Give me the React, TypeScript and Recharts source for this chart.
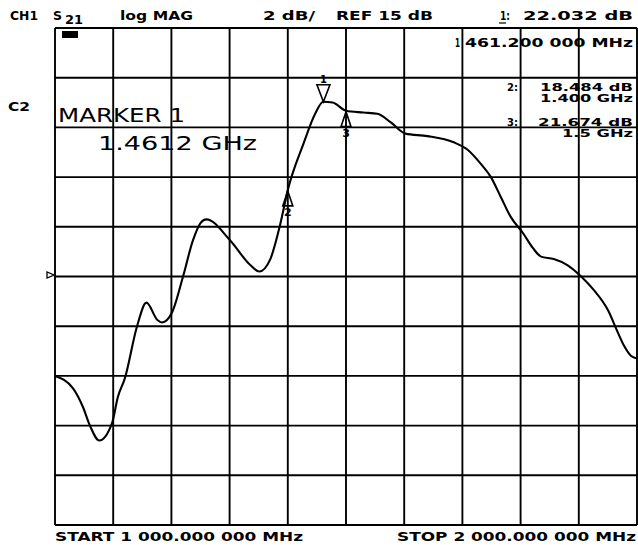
import React from "react";
import {
  ComposedChart,
  Line,
  Scatter,
  XAxis,
  YAxis,
  CartesianGrid,
} from "recharts";

// S21 trace (MHz / dB)
const freqMHz = [
  1000, 1031, 1048, 1060, 1076, 1098, 1108, 1120, 1141, 1157, 1176, 1184, 1201,
  1220, 1237, 1250, 1260, 1301, 1336, 1351, 1370, 1387, 1400, 1427, 1447, 1461,
  1477, 1500, 1530, 1554, 1577, 1602, 1640, 1685, 1709, 1731, 1749, 1766, 1783,
  1804, 1821, 1835, 1857, 1881, 1904, 1926, 1950, 1967, 1978, 1990, 2000,
];
const s21dB = [
  11.0, 10.5, 9.75, 9.0, 8.4, 9.1, 10.15, 10.9, 13.0, 13.95, 13.25, 13.15, 13.55,
  15.0, 16.45, 17.15, 17.3, 16.45, 15.45, 15.2, 15.7, 17.1, 18.48, 20.35, 21.55,
  22.03, 22.0, 21.67, 21.6, 21.55, 21.2, 20.75, 20.65, 20.4, 20.1, 19.55, 19.0,
  18.2, 17.4, 16.75, 16.15, 15.8, 15.7, 15.45, 15.0, 14.45, 13.65, 12.75, 12.2,
  11.8, 11.7,
];

// markers
const markerIds = [1, 2, 3];
const markerFreq = [1461.2, 1400, 1500];
const markerDb = [22.032, 18.484, 21.674];

// axis ticks (10 divisions each)
const freqTicks = [1000, 1100, 1200, 1300, 1400, 1500, 1600, 1700, 1800, 1900, 2000];
const dbTicks = [5, 7, 9, 11, 13, 15, 17, 19, 21, 23, 25];

const trace = freqMHz.map((f, i) => ({ f, db: s21dB[i] }));
const markers = markerIds.map((id, i) => ({ id, f: markerFreq[i], db: markerDb[i] }));

const bold = { fontFamily: "DejaVu Sans", fontWeight: 700 as const, fill: "#000" };
const thin = { fontFamily: "DejaVu Sans", fontWeight: 400 as const, fill: "#000" };

const MarkerShape = (props: any) => {
  const { cx, cy, payload } = props;
  if (payload.id === 1) {
    return (
      <g>
        <polygon
          points={`${cx - 6.5},${cy - 17} ${cx + 6.5},${cy - 17} ${cx},${cy}`}
          fill="#fff"
          stroke="#000"
          strokeWidth={1.6}
        />
        <text x={cx} y={cy - 19} textAnchor="middle" fontSize={10} {...bold}>
          1
        </text>
      </g>
    );
  }
  return (
    <g>
      <polygon
        points={`${cx},${cy + 1} ${cx - 5},${cy + 16} ${cx + 5},${cy + 16}`}
        fill="none"
        stroke="#000"
        strokeWidth={1.6}
      />
      <text x={cx} y={cy + 26} textAnchor="middle" fontSize={11} {...bold}>
        {payload.id}
      </text>
    </g>
  );
};

const T = (p: { x: number; y: number; w: number; size: number; s: any; children: string }) => (
  <text
    x={p.x}
    y={p.y}
    fontSize={p.size}
    textLength={p.w}
    lengthAdjust="spacingAndGlyphs"
    {...p.s}
  >
    {p.children}
  </text>
);

export default function App() {
  return (
    <div
      style={{
        position: "absolute",
        left: 0,
        top: 0,
        width: 638,
        height: 545,
        background: "#fff",
      }}
    >
      <ComposedChart
        width={638}
        height={545}
        margin={{ top: 28, right: 1, bottom: 20, left: 55 }}
      >
        <CartesianGrid stroke="#000" strokeWidth={1.9} />
        <XAxis
          dataKey="f"
          type="number"
          domain={[1000, 2000]}
          ticks={freqTicks}
          hide
        />
        <YAxis type="number" domain={[5, 25]} ticks={dbTicks} hide />
        <Line
          data={trace}
          dataKey="db"
          type="monotone"
          stroke="#000"
          strokeWidth={2.1}
          dot={false}
          isAnimationActive={false}
        />
        <Scatter
          data={markers}
          dataKey="db"
          shape={MarkerShape}
          isAnimationActive={false}
        />
      </ComposedChart>
      <svg
        width={638}
        height={545}
        style={{ position: "absolute", left: 0, top: 0, pointerEvents: "none" }}
      >
        {/* header */}
        <T x={10} y={20} w={28} size={12} s={bold}>CH1</T>
        <T x={53} y={20} w={9} size={12} s={bold}>S</T>
        <T x={65} y={24} w={18} size={12} s={bold}>21</T>
        <T x={120} y={20} w={73} size={12} s={bold}>log MAG</T>
        <T x={263} y={20} w={52} size={12} s={bold}>2 dB/</T>
        <T x={336} y={20} w={97} size={12} s={bold}>REF 15 dB</T>
        <T x={500} y={20} w={10} size={12} s={bold}>1:</T>
        <line x1={499} y1={23} x2={506} y2={23} stroke="#000" strokeWidth={1.2} />
        <T x={523} y={20} w={110} size={12} s={bold}>22.032 dB</T>

        {/* active marker frequency */}
        <T x={455} y={47} w={5} size={12} s={bold}>1</T>
        <T x={465} y={47} w={168} size={12} s={bold}>461.200 000 MHz</T>

        {/* other markers */}
        <T x={507} y={91} w={11} size={10} s={bold}>2:</T>
        <T x={540} y={91} w={93} size={10} s={bold}>18.484 dB</T>
        <T x={540} y={102} w={93} size={10} s={bold}>1.400 GHz</T>
        <T x={507} y={126} w={11} size={10} s={bold}>3:</T>
        <T x={538} y={126} w={95} size={10} s={bold}>21.674 dB</T>
        <T x={562} y={137} w={71} size={10} s={bold}>1.5 GHz</T>

        {/* left annotations */}
        <T x={8} y={111} w={22} size={12} s={bold}>C2</T>
        <T x={58} y={122} w={127} size={19} s={thin}>MARKER 1</T>
        <T x={98} y={150} w={159} size={19} s={thin}>1.4612 GHz</T>

        {/* small status box and reference position */}
        <rect x={62} y={31} width={16} height={7} fill="#000" />
        <polygon points="47,272 47,278 54,275" fill="#fff" stroke="#000" strokeWidth={1.3} />

        {/* footer */}
        <T x={55} y={541} w={248} size={12} s={bold}>START 1 000.000 000 MHz</T>
        <T x={397} y={541} w={239} size={12} s={bold}>STOP 2 000.000 000 MHz</T>
      </svg>
    </div>
  );
}
